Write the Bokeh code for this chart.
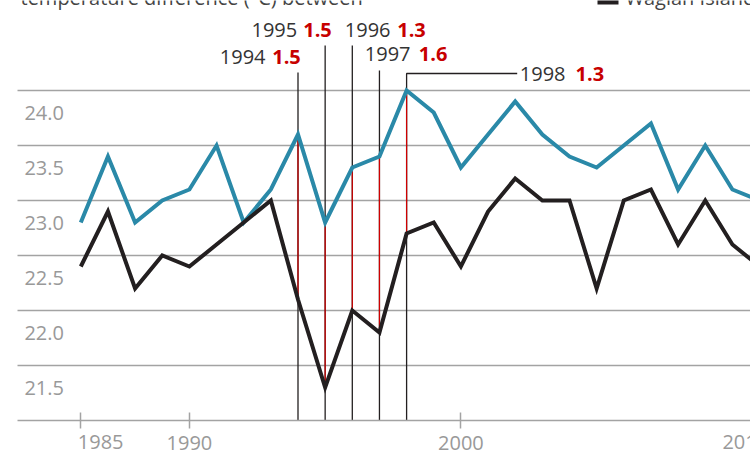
from bokeh.plotting import figure
from bokeh.models import Range1d, LinearAxis, FixedTicker, NumeralTickFormatter
from bokeh.core.properties import value
from bokeh.embed import file_html
from bokeh.resources import INLINE

# ---------------- data ----------------
years = list(range(1986, 2012))
other_station = [22.8, 23.4, 22.8, 23.0, 23.1, 23.5, 22.8, 23.1, 23.6, 22.8,
                 23.3, 23.4, 24.0, 23.8, 23.3, 23.6, 23.9, 23.6, 23.4, 23.3,
                 23.5, 23.7, 23.1, 23.5, 23.1, 23.0]
wagian_island = [22.4, 22.9, 22.2, 22.5, 22.4, 22.6, 22.8, 23.0, 22.1, 21.3,
                 22.0, 21.8, 22.7, 22.8, 22.4, 22.9, 23.2, 23.0, 23.0, 22.2,
                 23.0, 23.1, 22.6, 23.0, 22.6, 22.4]
y_ticks = [21.5, 22.0, 22.5, 23.0, 23.5, 24.0]
y_base = 21.0
x_ticks = [1986, 1990, 2000]
x_edge_ticks = [1986, 2010]
x_edge_labels = ["1985", "2010"]
annot_years = [1994, 1995, 1996, 1997, 1998]
annot_diffs = ["1.5", "1.5", "1.3", "1.6", "1.3"]
title_text = "temperature difference (°C) between"
legend_text = "Wagian Island"

# ---------------- layout helpers (reference pixel -> data) ----------------
W, H = 750, 452
PX_YEAR = 27.15
X_1986 = 80.3
PX_DEG = 110.0
Y_24 = 90.0
TEXT_DY = 8.5   # correction for text-glyph baseline placement


def xd(rx):
    return 1986 + (rx - X_1986) / PX_YEAR


def yd(ry):
    return 24.0 - (ry - Y_24) / PX_DEG


def yt(ry):
    return yd(ry - TEXT_DY)


FONT = value("Open Sans")
GRID = "#a3a3a3"
LABEL_GREY = "#999999"
BLUE = "#2a89a8"
BLACK = "#231f20"
RED = "#c70000"

p = figure(width=W, height=H,
           x_range=Range1d(xd(0), xd(W)),
           y_range=Range1d(yd(H), yd(0)),
           output_backend="svg", toolbar_location=None,
           x_axis_type=None, y_axis_type=None,
           min_border=0, outline_line_color=None,
           background_fill_color="white", border_fill_color="white")

# horizontal gridlines
p.segment(x0=[xd(17)] * len(y_ticks), y0=y_ticks,
          x1=[xd(W + 20)] * len(y_ticks), y1=y_ticks,
          line_color=GRID, line_width=1.5)

# x axis (baseline + ticks)
ax = LinearAxis(fixed_location=y_base, ticker=FixedTicker(ticks=x_ticks),
                bounds=(xd(17), xd(W)),
                major_label_overrides={1986: ""},
                axis_line_color=GRID, axis_line_width=1.5,
                major_tick_line_color=GRID, major_tick_line_width=1.5,
                major_tick_in=8, major_tick_out=8,
                minor_tick_line_color=None,
                major_label_standoff=7,
                major_label_text_font="Open Sans",
                major_label_text_font_size="20px",
                major_label_text_color=LABEL_GREY)
p.add_layout(ax, "below")

# edge x labels sit left-aligned near their tick
p.text(x=x_edge_ticks, y=[yt(450)] * 2, text=x_edge_labels, text_align="left",
       text_baseline="alphabetic", text_font=FONT, text_font_size="20px",
       text_color=LABEL_GREY, x_offset=[-3, -10])

# y labels, hanging below their gridline
p.extra_y_ranges = {"ylab": Range1d(yd(H) + 0.2, yd(0) + 0.2)}
ay = LinearAxis(y_range_name="ylab", fixed_location=xd(63.5),
                ticker=FixedTicker(ticks=y_ticks),
                formatter=NumeralTickFormatter(format="0.0"),
                axis_line_color=None, major_tick_line_color=None,
                minor_tick_line_color=None,
                major_tick_in=0, major_tick_out=0, major_label_standoff=0,
                major_label_text_font="Open Sans",
                major_label_text_font_size="20px",
                major_label_text_color=LABEL_GREY)
p.add_layout(ay, "left")

# annotation leader lines
lead_tops = [72, 45, 45, 70, 73]
lead_xs, lead_ys = [], []
for yr, top in zip(annot_years, lead_tops):
    xs = [yr, yr]
    ys = [y_base, yd(top)]
    if yr == 1998:
        xs.append(xd(516.7))
        ys.append(yd(top))
    lead_xs.append(xs)
    lead_ys.append(ys)
p.multi_line(lead_xs, lead_ys, line_color=BLACK, line_width=1.3)

idx = [years.index(y) for y in annot_years]
p.segment(x0=annot_years, y0=[other_station[i] for i in idx],
          x1=annot_years, y1=[wagian_island[i] for i in idx],
          line_color="#d00000", line_width=1.2)

# data lines
p.line(years, other_station, line_color=BLUE, line_width=4, line_join="miter")
p.line(years, wagian_island, line_color=BLACK, line_width=4, line_join="miter")

# annotation texts
year_right = [265, 296.7, 390, 410, 565]
val_left = [271.7, 302.7, 396.7, 418.3, 575]
baselines = [65, 38.3, 38.3, 61.7, 81.7]
p.text(x=[xd(r) for r in year_right], y=[yt(b) for b in baselines],
       text=[str(y) for y in annot_years], text_align="right",
       text_baseline="alphabetic", text_font=FONT, text_font_size="20px",
       text_color="#333333")
p.text(x=[xd(r) for r in val_left], y=[yt(b) for b in baselines],
       text=annot_diffs, text_align="left",
       text_baseline="alphabetic", text_font=FONT, text_font_size="20px",
       text_font_style="bold", text_color=RED)

# cropped title / legend fragments at the top edge
p.text(x=[xd(20)], y=[yt(5)], text=[title_text], text_align="left",
       text_baseline="alphabetic", text_font=FONT, text_font_size="20px",
       text_color="#444444")
p.rect(x=[xd(607.5)], y=[yd(0)], width=21 / PX_YEAR, height=8 / PX_DEG,
       fill_color=BLACK, line_color=None)
p.text(x=[xd(625)], y=[yt(5)], text=[legend_text], text_align="left",
       text_baseline="alphabetic", text_font=FONT, text_font_size="20px",
       text_color="#444444")

open("out.html", "w").write(file_html(p, INLINE))
